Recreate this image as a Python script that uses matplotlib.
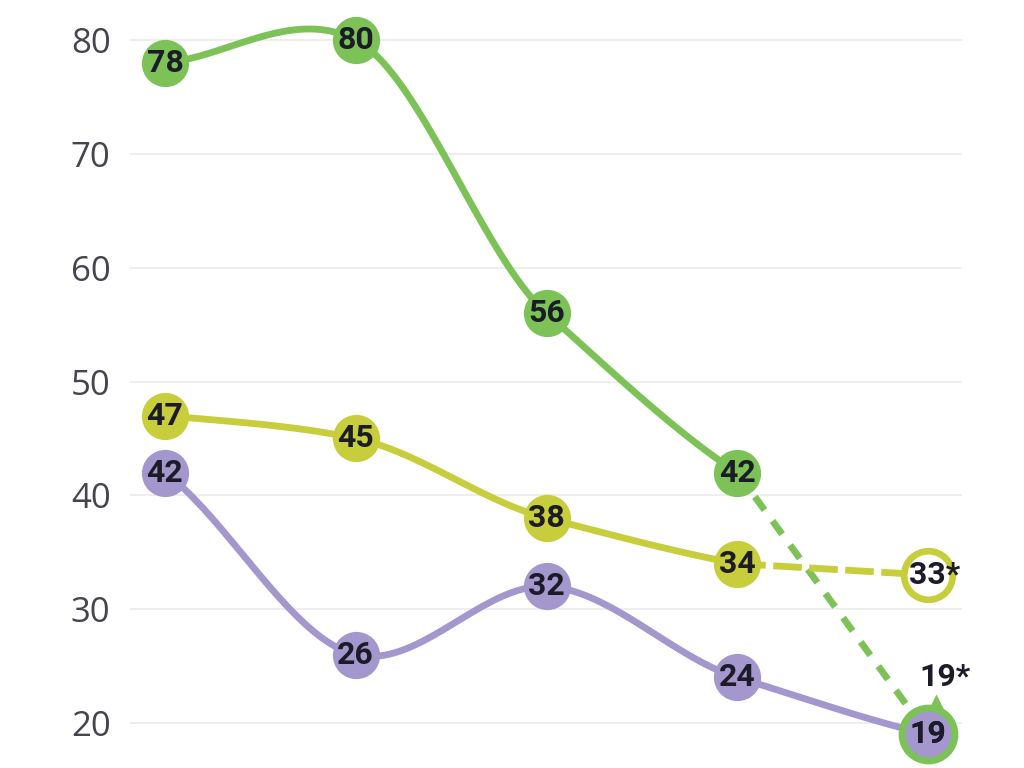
import numpy as np
import matplotlib
matplotlib.use("Agg")
import matplotlib.pyplot as plt
from matplotlib.transforms import ScaledTranslation

# ---- data ----
x_pos = [0, 1, 2, 3, 4]
green = [78, 80, 56, 42]          # solid part
green_last = 19                    # dashed projection
yellow = [47, 45, 38, 34]
yellow_last = 33
purple = [42, 26, 32, 24, 19]
yticks = [20, 30, 40, 50, 60, 70, 80]

GREEN = "#7CC257"
YELLOW = "#C8CD3B"
PURPLE = "#A497CD"
TXT = "#1c1c28"

def cardinal(xs, ys, k=0.78, n=40):
    xs = np.asarray(xs, float); ys = np.asarray(ys, float)
    m = np.zeros_like(ys)
    m[1:-1] = (ys[2:] - ys[:-2]) / (xs[2:] - xs[:-2])
    m[0] = ys[1] - ys[0]
    m[-1] = ys[-1] - ys[-2]
    m = m * k
    outx, outy = [], []
    for i in range(len(xs) - 1):
        t = np.linspace(0, 1, n)
        h = xs[i + 1] - xs[i]
        h00 = 2*t**3 - 3*t**2 + 1
        h10 = t**3 - 2*t**2 + t
        h01 = -2*t**3 + 3*t**2
        h11 = t**3 - t**2
        outx.append(xs[i] + t*h)
        outy.append(h00*ys[i] + h10*h*m[i] + h01*ys[i+1] + h11*h*m[i+1])
    return np.concatenate(outx), np.concatenate(outy)

fig = plt.figure(figsize=(10.24, 7.68), dpi=100)
ax = fig.add_axes([130/1024, 0, (962-130)/1024, 1])
sp = (928 - 165) / 4
ax.set_xlim((130 - 165) / sp, (962 - 165) / sp)
ppu = (723 - 40) / 60
ax.set_ylim(20 - 45/ppu, 80 + 40/ppu)

for s in ax.spines.values():
    s.set_visible(False)
ax.set_xticks([])
ax.set_yticks(yticks)
ax.tick_params(axis="y", length=0, pad=14, labelsize=25, labelcolor="#454550")
for lab in ax.get_yticklabels():
    lab.set_fontfamily(["Open Sans", "DejaVu Sans"])
ax.grid(axis="y", color="#ebebeb", lw=1.2)
ax.set_axisbelow(True)

LW = 4.9
MS = 34

# dashed projections
ax.plot([x_pos[3], x_pos[4]], [green[-1], green_last], color=GREEN, lw=LW,
        dashes=(2.4, 2.0), zorder=2)
ax.plot([x_pos[3], x_pos[4]], [yellow[-1], yellow_last], color=YELLOW, lw=LW,
        dashes=(4.2, 1.1), zorder=2)

# smooth lines
for ys, c in [(green, GREEN), (yellow, YELLOW), (purple, PURPLE)]:
    xx, yy = cardinal(x_pos[:len(ys)], ys)
    ax.plot(xx, yy, color=c, lw=LW, solid_capstyle="round", zorder=3)

lab_font = dict(fontsize=23, fontweight="bold", color=TXT,
                family=["Liberation Sans Narrow", "Roboto", "DejaVu Sans"],
                ha="center", va="center", zorder=10)

for ys, c in [(green, GREEN), (yellow, YELLOW), (purple, PURPLE)]:
    for xi, v in zip(x_pos, ys):
        ax.plot(xi, v, "o", ms=MS, color=c, mec="none", zorder=5)
        ax.text(xi, v, str(v), **lab_font)

# projected yellow point (hollow)
ax.plot(x_pos[4], yellow_last, "o", ms=MS + 1, mfc="white", mec=YELLOW, mew=4.8, zorder=5)
ax.annotate(f"{yellow_last}*", (x_pos[4], yellow_last), xytext=(5, 0),
            textcoords="offset points", **lab_font)

# projected green ring around last purple point
ax.plot(x_pos[4], green_last, "^", ms=11, color=GREEN, mec="none", zorder=4,
        transform=ax.transData + ScaledTranslation(6/72, 23/72, fig.dpi_scale_trans))
ax.plot(x_pos[4], green_last, "o", ms=MS + 4, mfc=PURPLE, mec=GREEN, mew=5, zorder=6)
ax.text(x_pos[4], green_last, str(purple[-1]), **lab_font)
ax.annotate(f"{green_last}*", (x_pos[4], green_last), xytext=(12, 41),
            textcoords="offset points", **lab_font)

fig.savefig("out.png", dpi=100, facecolor="white")
